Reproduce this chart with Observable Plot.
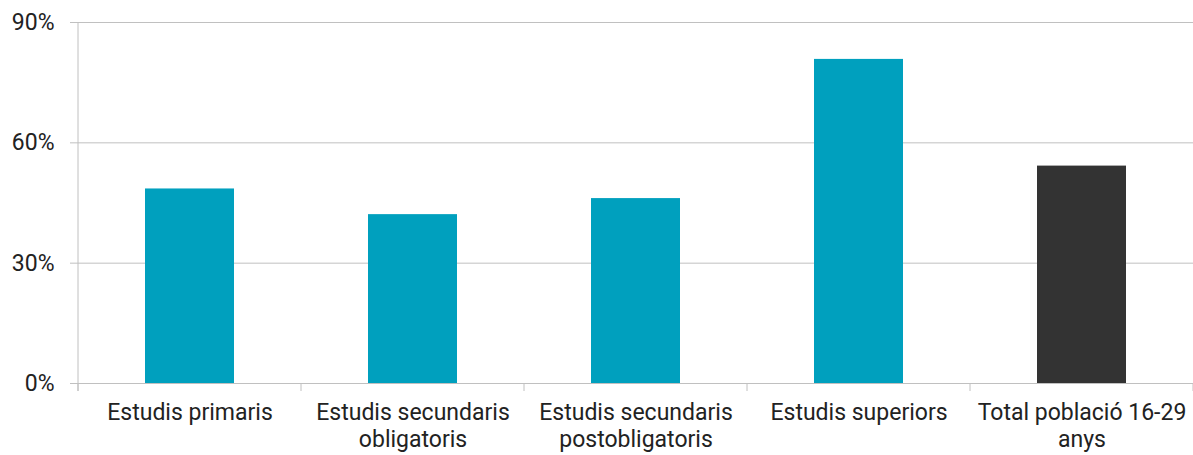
<!DOCTYPE html>
<html>
<head>
<meta charset="utf-8">
<script src="https://cdn.jsdelivr.net/npm/d3@7"></script>
<script src="https://cdn.jsdelivr.net/npm/@observablehq/plot@0.6"></script>
<style>
  html, body { margin: 0; padding: 0; background: #fff; }
  #chart svg { display: block; }
  #chart svg text { font-family: Roboto, sans-serif; font-size: 23px; }
</style>
</head>
<body>
<div id="chart"></div>
<script>
const categories = [
  "Estudis primaris",
  "Estudis secundaris obligatoris",
  "Estudis secundaris postobligatoris",
  "Estudis superiors",
  "Total població 16-29 anys"
];
const tickLabels = [
  "Estudis primaris",
  "Estudis secundaris\nobligatoris",
  "Estudis secundaris\npostobligatoris",
  "Estudis superiors",
  "Total població 16-29\nanys"
];
const values = [48.5, 42.1, 46.1, 80.8, 54.2];
const groups = ["nivell", "nivell", "nivell", "nivell", "total"];
const yTicks = [0, 30, 60, 90];

const data = categories.map((c, i) => ({category: c, value: values[i], group: groups[i]}));
const labelOf = new Map(categories.map((c, i) => [c, tickLabels[i]]));

const gridColor = "#c0c0c0";

function separators(index, scales, values, dimensions) {
  const g = d3.create("svg:g");
  const x = scales.x, y = scales.y;
  const step = x(categories[1]) - x(categories[0]);
  const xs = categories.map(c => x(c));
  xs.push(x(categories[categories.length - 1]) + step);
  const y0 = y(0);
  g.selectAll("line.sep").data(xs).join("line")
    .attr("x1", d => d).attr("x2", d => d)
    .attr("y1", y0).attr("y2", y0 + 8)
    .attr("stroke", gridColor).attr("stroke-width", 1);
  g.append("line")
    .attr("x1", xs[0]).attr("x2", xs[0])
    .attr("y1", y(90)).attr("y2", y0 + 8)
    .attr("stroke", gridColor).attr("stroke-width", 1);
  return g.node();
}

const chart = Plot.plot({
  width: 1193,
  height: 455,
  marginLeft: 78,
  marginRight: 0,
  marginTop: 22,
  marginBottom: 72,
  style: {fontFamily: "Roboto, sans-serif", fontSize: "23px", color: "#222", background: "#fff"},
  x: {domain: categories, padding: 0},
  y: {domain: [0, 90], ticks: yTicks},
  color: {domain: ["nivell", "total"], range: ["#00a0be", "#333333"]},
  marks: [
    Plot.gridY(yTicks, {stroke: gridColor, strokeOpacity: 1}),
    Plot.barY(data, {x: "category", y: "value", fill: "group", insetLeft: 67, insetRight: 67}),
    separators,
    Plot.axisY(yTicks, {
      tickFormat: d => d + "%",
      tickSize: 8,
      tickPadding: 16,
      stroke: gridColor,
      fill: "#222",
      label: null
    }),
    Plot.axisX({
      tickSize: 0,
      tickPadding: 17,
      tickFormat: d => labelOf.get(d),
      lineHeight: 1.17,
      fill: "#222",
      label: null
    })
  ]
});
document.getElementById("chart").appendChild(chart);
</script>
</body>
</html>
